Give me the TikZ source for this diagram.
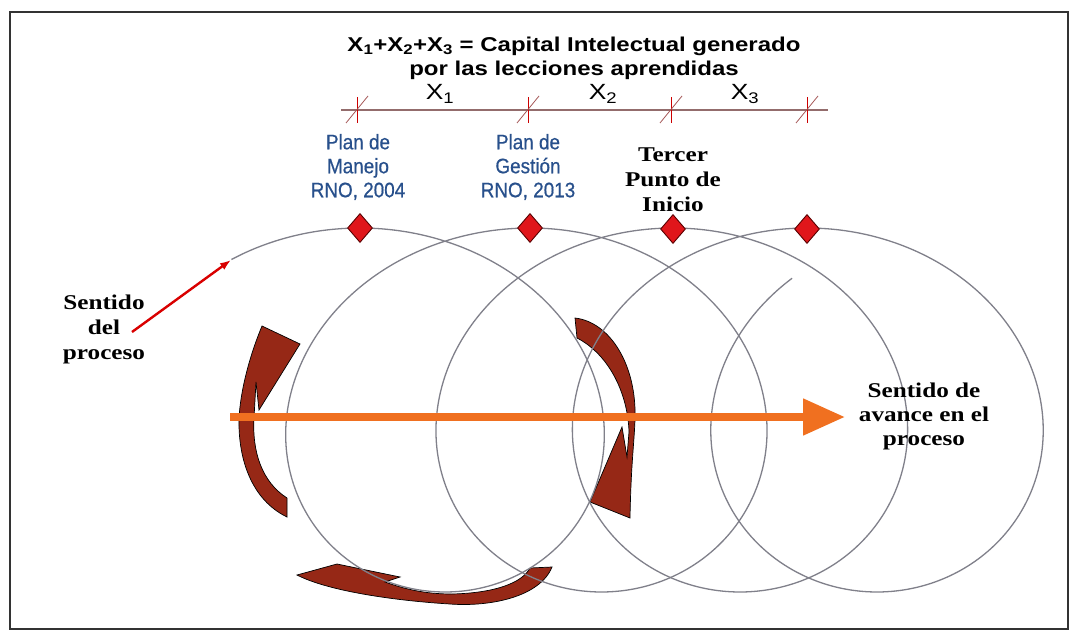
\documentclass[tikz,border=0pt]{standalone}
\usepackage{fontspec}
\setmainfont{Liberation Serif}
\newfontfamily\titlefont[FakeStretch=1.2]{Liberation Sans}
\newfontfamily\planfont[FakeStretch=0.9,FakeBold=0.6]{Liberation Sans}
\newfontfamily\widefont[FakeStretch=1.2]{Liberation Serif}
\usetikzlibrary{arrows.meta,shapes.geometric}
\definecolor{plancolor}{RGB}{40,80,140}
\definecolor{brownarrow}{RGB}{150,40,22}
\definecolor{orangearrow}{RGB}{240,112,32}
\definecolor{markred}{RGB}{224,22,27}
\definecolor{loopgray}{RGB}{128,128,138}
\begin{document}
\begin{tikzpicture}[x=1pt,y=-1pt,
	titletext/.style={font=\titlefont\bfseries\fontsize{20}{24}\selectfont,align=center},
	xlabel/.style={font=\titlefont\fontsize{22}{24}\selectfont},
	plantext/.style={font=\planfont\fontsize{21}{24}\selectfont,text=plancolor,align=center},
	boldtext/.style={font=\widefont\bfseries\fontsize{21}{25}\selectfont,align=center},
	marker/.style={diamond,fill=markred,draw=red!35!black,line width=0.9,inner sep=0,minimum width=25pt,minimum height=29pt},
	curvedarrow/.style={fill=brownarrow,draw=black,line width=0.7},
	loopline/.style={draw=loopgray,line width=1.3}]
	\fill[white] (0,0) rectangle (1080,637);
	\useasboundingbox (0,0) rectangle (1080,637);
	\draw[line width=2,black!80] (10,12) rectangle (1068,629);

	\node[titletext] (titulo) at (574,58) {X\textsubscript{1}+X\textsubscript{2}+X\textsubscript{3} = Capital Intelectual generado\\por las lecciones aprendidas};
	\coordinate (ejeA) at (341,110);
	\coordinate (ejeB) at (828,110);
	\draw[gray!85!red,line width=1.6] (ejeA) -- (ejeB);
	\foreach \t in {357,528,671,807}{
		\draw[red!80!black,line width=1] (\t,97) -- (\t,123);
		\draw[gray!70!red,line width=0.8] (\t-11,123) -- (\t+11,96);
	}
	\node[xlabel] (x1) at (440,94) {X\textsubscript{1}};
	\node[xlabel] (x2) at (603,94) {X\textsubscript{2}};
	\node[xlabel] (x3) at (745,94) {X\textsubscript{3}};

	\node[plantext] (plan1) at (358,167) {Plan de\\Manejo\\RNO, 2004};
	\node[plantext] (plan2) at (528,167) {Plan de\\Gestión\\RNO, 2013};

	\draw[curvedarrow] (287,517) .. controls (252,500) and (238,460) .. (239,418)
		.. controls (241,385) and (252,350) .. (262,326) -- (300,344) -- (259,410) -- (256,382) -- (254,418)
		.. controls (252,452) and (262,482) .. (287,498) -- cycle;
	\draw[curvedarrow] (552,567) .. controls (540,597) and (490,607) .. (450,604)
		.. controls (400,601) and (330,592) .. (297,575) -- (337,564) -- (400,577) -- (385,582)
		.. controls (410,591) and (430,594) .. (452,594) .. controls (495,593) and (522,583) .. (530,568) -- cycle;
	\draw[curvedarrow] (575,318) .. controls (610,322) and (637,365) .. (635,420)
		.. controls (634,445) and (631,465) .. (630,518) -- (590,502) -- (622,427) -- (627,457) -- (629,432)
		.. controls (628,395) and (610,355) .. (577,338) -- cycle;

	\foreach \ts/\xa/\dx/\te in {-0.095/360/170/1,0/530/143/1,0/673/134/1,0/807/140/0.88}
		\draw[loopline] plot[domain=\ts:\te,samples=120,smooth] ({\xa+\dx*\x+200*sin(360*\x)},{410-182*cos(360*\x)});

	\coordinate (inicio) at (231,260);
	\coordinate (cola) at (132,332);
	\draw[red!85!black,line width=2.4,-{Latex[length=11pt,width=8pt]}] (cola) -- (inicio);

	\coordinate (origen) at (230,417);
	\coordinate (meta) at (845,417);
	\draw[orangearrow,line width=8,-{Triangle[length=42pt,width=35pt]}] (origen) -- (meta);

	\node[marker] (d1) at (360,228) {};
	\node[marker] (d2) at (530,228) {};
	\node[marker] (d3) at (673,229) {};
	\node[marker] (d4) at (807,229) {};

	\node[boldtext] (tercer) at (673,180) {Tercer\\Punto de\\Inicio};
	\node[boldtext] (sentido) at (104,329) {Sentido\\del\\proceso};
	\node[boldtext,font=\widefont\bfseries\fontsize{21}{24}\selectfont] (avance) at (924,416) {Sentido de\\avance en el\\proceso};
\end{tikzpicture}
\end{document}
